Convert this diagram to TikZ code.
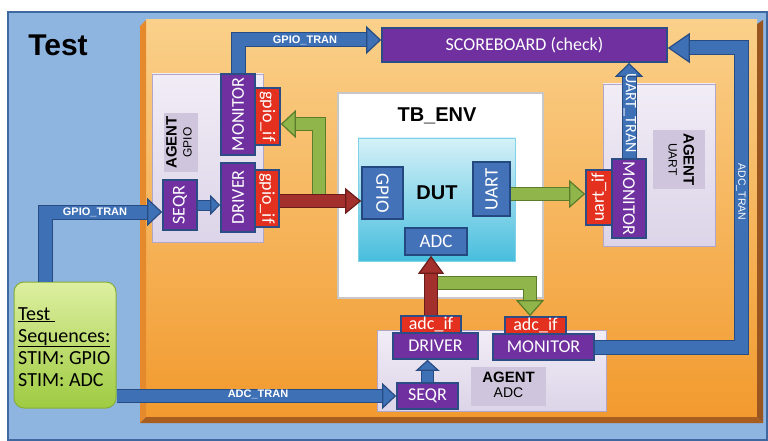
\documentclass[tikz,border=0pt]{standalone}
\usepackage{fontspec}
\usepackage{graphicx}
\setmainfont{Liberation Sans}
\newfontfamily\calfont{Carlito}
\usetikzlibrary{arrows.meta,calc}
\definecolor{bgblue}{HTML}{8EB4E0}
\definecolor{bgbord}{HTML}{3F67A0}
\definecolor{orT}{HTML}{FAD08A}
\definecolor{orBt}{HTML}{F29A2E}
\definecolor{orL}{HTML}{E58A2C}
\definecolor{orB}{HTML}{A85E1E}
\definecolor{orR}{HTML}{9A5620}
\definecolor{agT}{HTML}{F1EDF6}
\definecolor{agB}{HTML}{DCD4E8}
\definecolor{agb}{HTML}{B3A5C8}
\definecolor{lblc}{HTML}{CFC6DD}
\definecolor{purp}{HTML}{7030A0}
\definecolor{redb}{HTML}{E3301F}
\definecolor{bdr}{HTML}{2C4C86}
\definecolor{portf}{HTML}{4472B8}
\definecolor{portb}{HTML}{244980}
\definecolor{dutT}{HTML}{D5F1F8}
\definecolor{dutB}{HTML}{48BEDD}
\definecolor{ablue}{HTML}{3E70B6}
\definecolor{abord}{HTML}{274C84}
\definecolor{ared}{HTML}{A3302C}
\definecolor{aredb}{HTML}{6B1C1A}
\definecolor{agreen}{HTML}{8FB54B}
\definecolor{agreenb}{HTML}{5B7C2B}
\definecolor{seqT}{HTML}{DDEFA0}
\definecolor{seqB}{HTML}{9FCB42}
\definecolor{seqb}{HTML}{86AE3C}
\newcommand\fatarr[6]{%
  \draw[line width={(#3+2)*1pt}, #2, shorten >={(#5-1)*1pt}, line join=miter] #6;
  \draw[line width=#3pt, #1, line join=miter, -{Triangle[width=#4pt, length=#5pt, line width=1.2pt, color=#2, fill=#1]}] #6;
}
\newcommand\bx[7]{%
  \pgfmathsetmacro\bw{#5-#3}\pgfmathsetmacro\bh{#6-#4}%
  \pgfmathsetmacro\bcx{(#3+#5)/2}\pgfmathsetmacro\bcy{(#4+#6)/2}%
  \node[#1, minimum width=\bw pt, minimum height=\bh pt] (#2) at (\bcx,\bcy) {#7};}
\tikzset{
  boxp/.style={inner sep=0pt, draw=bdr, line width=1.6pt, fill=purp, text=white, font=\calfont\fontsize{18}{18}\selectfont},
  boxr/.style={boxp, fill=redb},
  portbox/.style={inner sep=0pt, draw=portb, line width=1.6pt, fill=portf, text=white, font=\calfont\fontsize{19}{19}\selectfont},
  agentbox/.style={inner sep=0pt, draw=agb, line width=0.8pt, top color=agT, bottom color=agB},
  lblbox/.style={inner sep=0pt, fill=lblc, font=\fontsize{15}{15}\selectfont},
  arrlbl/.style={inner sep=0pt, text=white, font=\bfseries\fontsize{11}{11}\selectfont},
  seqline/.style={inner sep=0pt, anchor=base west, font=\calfont\fontsize{20}{22}\selectfont},
}
\begin{document}
\begin{tikzpicture}[x=1pt,y=-1pt]
\useasboundingbox (0,0) rectangle (768,441);
\fill[white] (0,0) rectangle (768,441);
\draw[bgbord, line width=2pt, fill=bgblue] (8,12) rectangle (767,440);
% orange block with bevel
\shade[top color=orT, bottom color=orBt] (146,20) rectangle (757,417);
\fill[orL] (140,26) -- (146,20) -- (146,417) -- (140,423) -- cycle;
\fill[orB] (140,423) -- (146,417) -- (757,417) -- (763,423) -- cycle;
\fill[orR] (757,24) -- (763,20) -- (763,423) -- (757,417) -- cycle;

\node[inner sep=0pt, font=\bfseries\fontsize{30}{30}\selectfont] (title) at (58,45) {Test};

% scoreboard
\bx{boxp}{sb}{382}{28}{667}{62}{SCOREBOARD (check)}

% TB_ENV and DUT
\bx{inner sep=0pt, fill=white, draw=black!22, line width=2pt}{tb}{338}{93}{543}{298}{}
\node[inner sep=0pt, font=\bfseries\fontsize{20}{20}\selectfont] (tbl) at (437,116) {TB\_ENV};
\bx{inner sep=0pt, top color=dutT, bottom color=dutB, draw=dutB!70, line width=0.8pt}{dut}{358}{138}{515}{261}{}
\node[inner sep=0pt, font=\bfseries\fontsize{20}{20}\selectfont] (dutl) at (437,193) {DUT};
\bx{portbox}{pGPIO}{362}{167}{403}{219}{\rotatebox{-90}{GPIO}}
\bx{portbox}{pUART}{473}{162}{510}{216}{\rotatebox{90}{UART}}
\bx{portbox}{pADC}{405}{228}{467}{255}{ADC}

% agent GPIO
\bx{agentbox}{agG}{152}{74}{263}{242}{}
\bx{lblbox}{lbG}{164}{113}{198}{172}{\rotatebox{90}{\begin{tabular}{@{}c@{}}\bfseries AGENT\\{\fontsize{12}{12}\selectfont GPIO}\end{tabular}}}
\bx{boxp}{monG}{221}{74}{255}{155}{\rotatebox{90}{MONITOR}}
\bx{boxr}{ifmG}{255}{88}{280}{145}{\rotatebox{-90}{gpio\_if}}
\bx{boxp}{seqG}{163}{180}{197}{230}{\rotatebox{90}{SEQR}}
\bx{boxp}{drvG}{221}{163}{255}{232}{\rotatebox{90}{DRIVER}}
\bx{boxr}{ifdG}{255}{170}{279}{227}{\rotatebox{-90}{gpio\_if}}

% agent UART
\bx{agentbox}{agU}{603}{84}{715}{246}{}
\bx{lblbox}{lbU}{653}{130}{705}{189}{\rotatebox{-90}{\begin{tabular}{@{}c@{}}\bfseries AGENT\\{\fontsize{12}{12}\selectfont UART}\end{tabular}}}
\bx{boxp}{monU}{612}{159}{646}{238}{\rotatebox{-90}{MONITOR}}
\bx{boxr}{ifU}{586}{170}{612}{225}{\rotatebox{90}{uart\_if}}

% agent ADC
\bx{agentbox}{agA}{377}{330}{606}{411}{}
\bx{lblbox}{lbA}{471}{367}{546}{406}{\begin{tabular}{@{}c@{}}\bfseries AGENT\\{\fontsize{14}{14}\selectfont ADC}\end{tabular}}
\bx{boxr}{ifdA}{401}{316}{461}{333}{adc\_if}
\bx{boxp}{drvA}{393}{333}{478}{359}{DRIVER}
\bx{boxr}{ifmA}{505}{317}{566}{334}{adc\_if}
\bx{boxp}{monA}{493}{334}{594}{360}{MONITOR}
\bx{boxp}{seqA}{397}{383}{458}{409}{SEQR}

% test sequences
\bx{inner sep=0pt, rounded corners=10pt, top color=seqT, bottom color=seqB, draw=seqb, line width=1pt}{seqbox}{14}{282}{116}{408}{}
\node[seqline] (t1) at (18,320) {\underline{Test\ }};
\node[seqline] (t2) at (18,342) {\underline{Sequences:}};
\node[seqline] (t3) at (18,364) {STIM: GPIO};
\node[seqline] (t4) at (18,386) {STIM: ADC};

% helper coordinates
\coordinate (sbT) at ($(sb.west)+(0,-5)$);
\coordinate (tsN) at ($(seqbox.north)+(-20,0)$);
\coordinate (sqW) at ($(seqG.west)+(0,7)$);
\coordinate (adcR) at (741,48);
\coordinate (rg) at ($(ifdG.east)+(0,2.5)$);
\coordinate (gs) at (319,201);
\coordinate (gm) at ($(ifmG.east)+(0,7.5)$);
\coordinate (u1) at ($(pUART.east)+(0,5)$);
\coordinate (as) at (430,283);
\coordinate (am) at ($(ifmA.north)+(-5.5,0)$);

% green arrows
\fatarr{agreen}{agreenb}{12}{28}{15}{(gs) |- (gm)}
\fatarr{agreen}{agreenb}{12}{28}{16}{(u1) -- (u1 -| ifU.west)}
\fatarr{agreen}{agreenb}{12}{28}{16}{(as) -| (am)}
% red arrows
\fatarr{ared}{aredb}{12}{26}{16}{(rg) -- (rg -| pGPIO.west)}
\fatarr{ared}{aredb}{12}{26}{18}{(ifdA.north) -- (ifdA.north |- pADC.south)}
% blue arrows
\fatarr{ablue}{abord}{13}{28}{15}{(monG.north) |- (sbT)}
\fatarr{ablue}{abord}{13}{28}{15}{(tsN) |- (sqW)}
\fatarr{ablue}{abord}{9}{20}{10}{(seqG.east) -- (seqG.east -| drvG.west)}
\fatarr{ablue}{abord}{12}{26}{14}{(seqA.west -| seqbox.east) -- (seqA.west)}
\fatarr{ablue}{abord}{11}{24}{11}{(seqA.north) -- (seqA.north |- drvA.south)}
\fatarr{ablue}{abord}{13}{28}{14}{(monU.north) -- (monU.north |- sb.south)}
\fatarr{ablue}{abord}{13}{30}{22}{(monA.east) -| (adcR) -- (adcR -| sb.east)}

% arrow labels
\node[arrlbl] (l1) at (305,40) {GPIO\_TRAN};
\node[arrlbl] (l2) at (95,212) {GPIO\_TRAN};
\node[arrlbl] (l3) at (258,394) {ADC\_TRAN};
\node[inner sep=0pt, text=white, font=\calfont\fontsize{16}{16}\selectfont] (l4) at (630,113) {\rotatebox{-90}{UART\_TRAN}};
\node[inner sep=0pt, text=white, font=\fontsize{10.5}{10.5}\selectfont] (l5) at (741,192) {\rotatebox{-90}{ADC\_TRAN}};
\end{tikzpicture}
\end{document}
